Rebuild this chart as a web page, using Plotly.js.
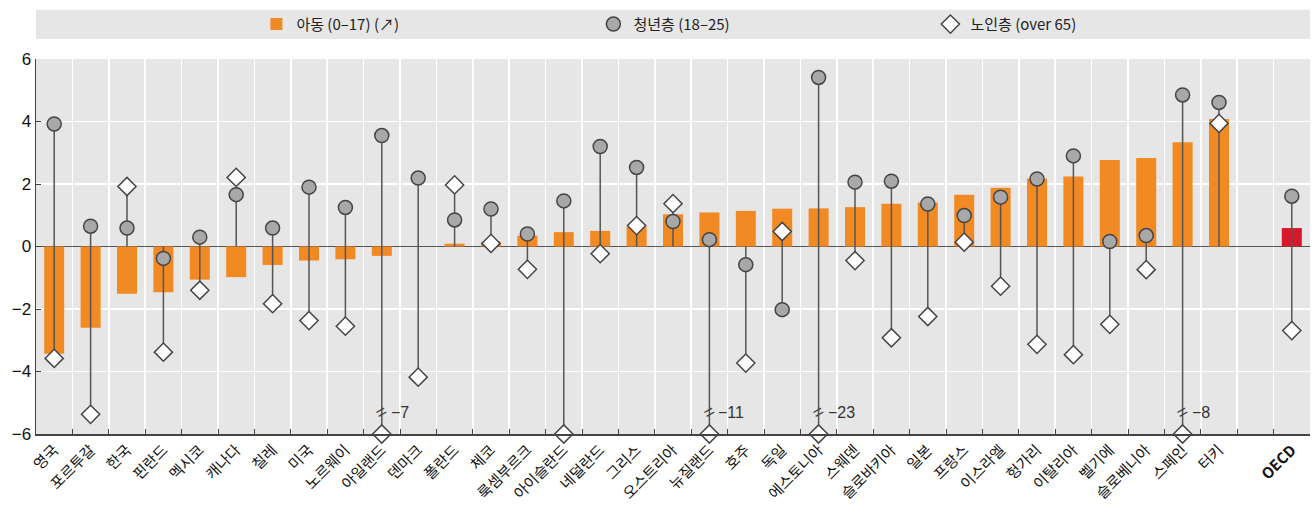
<!DOCTYPE html>
<html>
<head>
<meta charset="utf-8">
<script src="https://cdn.plot.ly/plotly-3.0.1.min.js"></script>
<style>html,body{margin:0;padding:0;background:#fff;}#chart{width:1316px;height:505px;}</style>
</head>
<body>
<div id="chart"></div>
<script>
var countries = ['영국','포르투갈','한국','핀란드','멕시코','캐나다','칠레','미국','노르웨이','아일랜드','덴마크','폴란드','체코','룩셈부르크','아이슬란드','네덜란드','그리스','오스트리아','뉴질랜드','호주','독일','에스토니아','스웨덴','슬로바키아','일본','프랑스','이스라엘','헝가리','이탈리아','벨기에','슬로베니아','스페인','터키','OECD'];
var gapLabel = ' ';
var children = [-3.43,-2.60,-1.51,-1.46,-1.06,-0.98,-0.59,-0.45,-0.41,-0.30,0.0,0.09,0.15,0.35,0.46,0.50,0.64,1.03,1.09,1.14,1.21,1.22,1.26,1.37,1.41,1.66,1.88,2.18,2.24,2.77,2.83,3.34,4.08,0.59];
var youth = [3.92,0.65,0.59,-0.38,0.30,1.66,0.59,1.90,1.25,3.55,2.19,0.85,1.20,0.40,1.46,3.20,2.53,0.80,0.22,-0.58,-2.02,5.41,2.06,2.09,1.36,0.99,1.58,2.16,2.90,0.16,0.35,4.85,4.61,1.61];
var elderly = [-3.58,-5.37,1.92,-3.38,-1.40,2.21,-1.83,-2.37,-2.55,-7,-4.18,1.97,0.10,-0.73,-6.0,-0.23,0.67,1.37,-11,-3.73,0.48,-23,-0.45,-2.92,-2.24,0.14,-1.27,-3.13,-3.46,-2.49,-0.74,-8,3.94,-2.69];
var yTicks = [-6,-4,-2,0,2,4,6];
var yTickText = ['\u22126','\u22124','\u22122','0','2','4','6'];
var legendNames = ['아동 (0\u201317) (\u2197)','청년층 (18\u201325)','노인층 (over 65)'];

var yMin = -6, yMax = 6;
var allCats = countries.slice(0, countries.length - 1).concat([gapLabel, countries[countries.length - 1]]);
var tickText = allCats.map(function(c){ return c === 'OECD' ? '<b>OECD</b>' : c; });

var elderlyShown = elderly.map(function(v){ return Math.max(v, yMin); });

var sx = [], sy = [];
countries.forEach(function(c, i){
  var lo = Math.min(0, youth[i], elderlyShown[i]);
  var hi = Math.max(0, youth[i], elderlyShown[i]);
  sx.push(c, c, null); sy.push(lo, hi, null);
});

var barColors = countries.map(function(c){ return c === 'OECD' ? '#d7182a' : '#f28a24'; });

var traces = [
  {type:'bar', x:countries, y:children, name:legendNames[0], marker:{color:barColors}, width:0.55, hoverinfo:'x+y'},
  {type:'scatter', mode:'lines', x:sx, y:sy, line:{color:'#555555', width:1.5}, showlegend:false, hoverinfo:'skip', cliponaxis:false},
  {type:'scatter', mode:'markers', x:countries, y:youth, name:legendNames[1], marker:{symbol:'circle', size:14, color:'#a8a8a8', line:{color:'#454545', width:1.5}}, cliponaxis:false},
  {type:'scatter', mode:'markers', x:countries, y:elderlyShown, name:legendNames[2], marker:{symbol:'diamond', size:14, color:'#ffffff', line:{color:'#454545', width:1.5}}, cliponaxis:false}
];

var annotations = [];
countries.forEach(function(c, i){
  if (elderly[i] < yMin) {
    annotations.push({x:c, y:yMin + 0.7, xref:'x', yref:'y', text:'=', showarrow:false, textangle:-30,
      font:{family:'Liberation Sans, sans-serif', size:18, color:'#444'}, xanchor:'center', yanchor:'middle'});
    annotations.push({x:c, y:yMin + 0.7, xref:'x', yref:'y', text:'\u2212' + Math.abs(elderly[i]), showarrow:false,
      font:{family:'Liberation Sans, sans-serif', size:16, color:'#333'}, xanchor:'left', yanchor:'middle', xshift:7});
  }
});

var layout = {
  width:1316, height:505,
  margin:{l:36, r:6, t:59, b:71},
  paper_bgcolor:'#ffffff', plot_bgcolor:'#e6e6e6',
  showlegend:true,
  legend:{orientation:'h', x:0.173, y:1.0925, xanchor:'left', yanchor:'middle', bgcolor:'rgba(0,0,0,0)',
    entrywidth:292, entrywidthmode:'pixels', itemclick:false,
    font:{family:'Liberation Sans Narrow, Noto Sans CJK KR, sans-serif', size:15, color:'#222'}},
  shapes:[{type:'rect', xref:'paper', yref:'paper', x0:0, x1:1, y0:1.0533, y1:1.1315, fillcolor:'#e6e6e6', line:{width:0}, layer:'below'}],
  xaxis:{type:'category', categoryorder:'array', categoryarray:allCats, tickmode:'array', tickvals:allCats, ticktext:tickText,
    range:[-0.5, allCats.length - 0.5], tickson:'boundaries', showgrid:true, gridcolor:'#ffffff', gridwidth:1.5,
    ticks:'inside', ticklen:5, tickcolor:'#444', showline:true, linecolor:'#444', linewidth:1.5,
    tickangle:-45, tickfont:{family:'Noto Sans CJK KR, sans-serif', size:15, color:'#111'}, automargin:false, fixedrange:true},
  yaxis:{range:[yMin, yMax], tickmode:'array', tickvals:yTicks, ticktext:yTickText, showgrid:true, gridcolor:'#ffffff', gridwidth:1.5,
    zeroline:true, zerolinecolor:'#555555', zerolinewidth:1.5, showline:true, linecolor:'#444', linewidth:1.5,
    ticks:'inside', ticklen:5, tickcolor:'#444', tickfont:{family:'Liberation Sans, sans-serif', size:17, color:'#111'}, automargin:false, fixedrange:true},
  annotations:annotations
};

Plotly.newPlot('chart', traces, layout, {displayModeBar:false, staticPlot:true});
</script>
</body>
</html>
